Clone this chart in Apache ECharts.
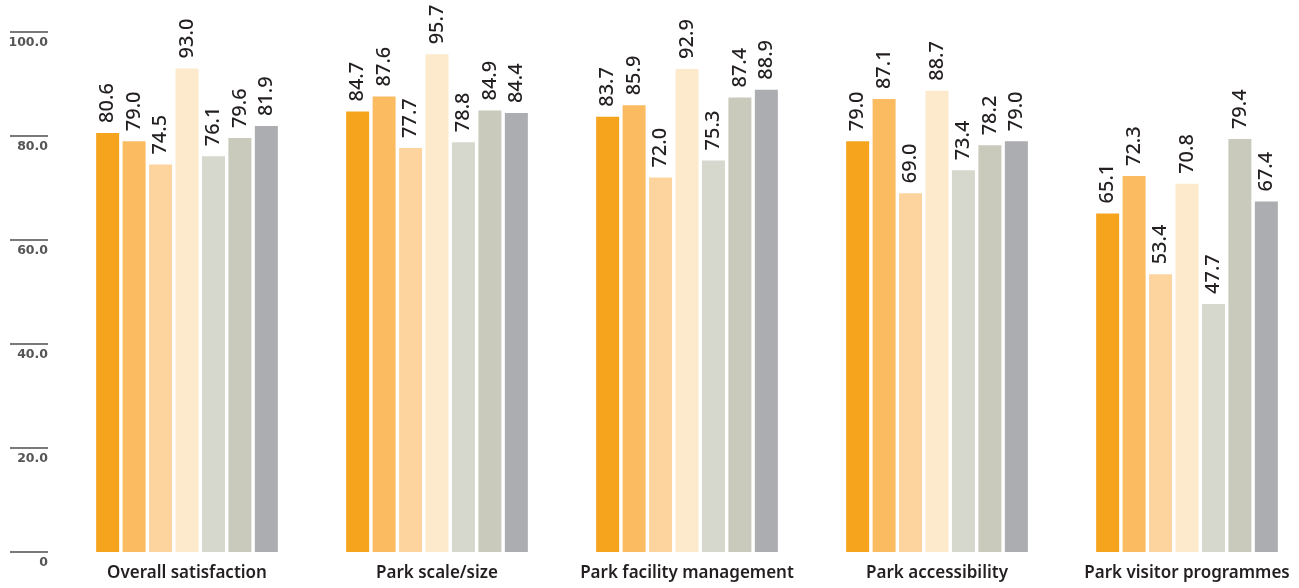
<!DOCTYPE html>
<html>
<head>
<meta charset="utf-8">
<script src="https://cdn.jsdelivr.net/npm/echarts@6/dist/echarts.min.js"></script>
<style>
html,body{margin:0;padding:0;background:#fff;overflow:hidden;}
#chart{width:1312px;height:588px;}
</style>
</head>
<body>
<div id="chart"></div>
<script>
var categories = ['Overall satisfaction', 'Park scale/size', 'Park facility management', 'Park accessibility', 'Park visitor programmes'];
var seriesNames = ['Group 1', 'Group 2', 'Group 3', 'Group 4', 'Group 5', 'Group 6', 'Group 7'];
var group1 = [80.6, 84.7, 83.7, 79.0, 65.1];
var group2 = [79.0, 87.6, 85.9, 87.1, 72.3];
var group3 = [74.5, 77.7, 72.0, 69.0, 53.4];
var group4 = [93.0, 95.7, 92.9, 88.7, 70.8];
var group5 = [76.1, 78.8, 75.3, 73.4, 47.7];
var group6 = [79.6, 84.9, 87.4, 78.2, 79.4];
var group7 = [81.9, 84.4, 88.9, 79.0, 67.4];
var yTickValues = [0, 20, 40, 60, 80, 100];
var yTickLabels = ['0', '20.0', '40.0', '60.0', '80.0', '100.0'];

var seriesData = [group1, group2, group3, group4, group5, group6, group7];
var colors = ['#F6A41E', '#FBBB61', '#FDD49D', '#FDE9CB', '#D6D7CD', '#C9CABC', '#ACADB0'];

var chart = echarts.init(document.getElementById('chart'));
var series = seriesData.map(function (d, i) {
  return {
    name: seriesNames[i],
    type: 'bar',
    data: d,
    barWidth: 23,
    barGap: '15%',
    itemStyle: { color: colors[i] },
    label: {
      show: true,
      position: 'top',
      rotate: 90,
      align: 'left',
      verticalAlign: 'middle',
      distance: 10,
      fontFamily: 'Noto Sans',
      fontSize: 20,
      fontWeight: 500,
      color: '#231f20',
      formatter: function (p) { return p.value.toFixed(1); }
    }
  };
});

chart.setOption({
  animation: false,
  backgroundColor: '#ffffff',
  color: colors,
  grid: { left: 62, right: 0, top: 32, bottom: 36, containLabel: false },
  xAxis: {
    type: 'category',
    data: categories,
    axisLine: { show: false },
    axisTick: { show: false },
    axisLabel: {
      margin: 13,
      fontFamily: 'Noto Sans',
      fontSize: 17,
      fontWeight: 600,
      color: '#231f20',
      interval: 0
    }
  },
  yAxis: {
    type: 'value',
    min: 0,
    max: 100,
    interval: 20,
    offset: 14,
    axisLine: { show: false },
    axisTick: { show: true, inside: false, length: 38, lineStyle: { color: '#7a7a7a', width: 2 } },
    splitLine: { show: false },
    axisLabel: {
      margin: 0,
      align: 'right',
      verticalAlign: 'top',
      padding: [4, 0, 0, 0],
      fontFamily: 'DejaVu Sans',
      fontSize: 12.5,
      fontWeight: 'bold',
      color: '#555555',
      formatter: function (v) {
        var idx = yTickValues.indexOf(v);
        return idx >= 0 ? yTickLabels[idx] : '';
      }
    }
  },
  series: series
});
</script>
</body>
</html>
